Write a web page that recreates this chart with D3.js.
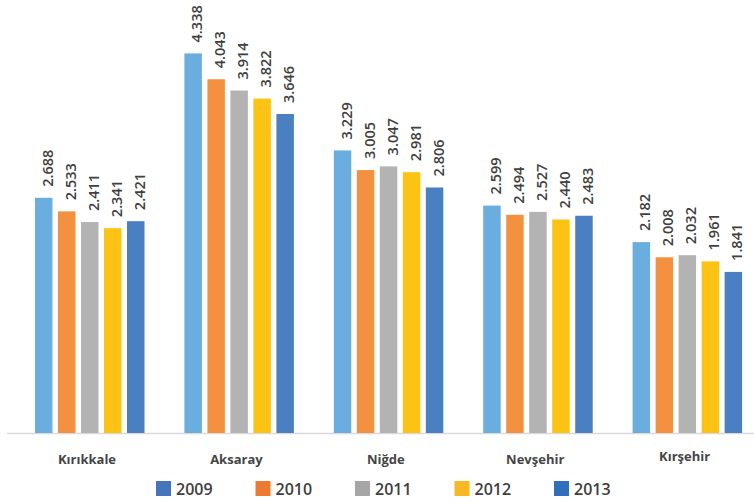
<!DOCTYPE html>
<html><head><meta charset="utf-8">
<script src="https://cdn.jsdelivr.net/npm/d3@7"></script>
<style>body{margin:0;background:#fff;} text{font-family:"Open Sans",sans-serif;}</style>
</head><body>
<svg id="c" width="754" height="503"></svg>
<script>
const categories = ["Kırıkkale","Aksaray","Niğde","Nevşehir","Kırşehir"];
const years = ["2009","2010","2011","2012","2013"];
const v2009 = [2.688, 4.338, 3.229, 2.599, 2.182];
const v2010 = [2.533, 4.043, 3.005, 2.494, 2.008];
const v2011 = [2.411, 3.914, 3.047, 2.527, 2.032];
const v2012 = [2.341, 3.822, 2.981, 2.440, 1.961];
const v2013 = [2.421, 3.646, 2.806, 2.483, 1.841];
const labels2009 = ["2.688","4.338","3.229","2.599","2.182"];
const labels2010 = ["2.533","4.043","3.005","2.494","2.008"];
const labels2011 = ["2.411","3.914","3.047","2.527","2.032"];
const labels2012 = ["2.341","3.822","2.981","2.440","1.961"];
const labels2013 = ["2.421","3.646","2.806","2.483","1.841"];
const series = [v2009, v2010, v2011, v2012, v2013];
const seriesLabels = [labels2009, labels2010, labels2011, labels2012, labels2013];
const barColors = ["#6aaee0","#f39140","#b3b3b3","#fcc314","#4a7fc1"];
const legendColors = ["#4475bd","#ec7a30","#a6a6a6","#f7b824","#316fbb"];

const svg = d3.select("#c");
const x0 = d3.scaleBand().domain(categories).range([15, 762]).padding(0);
const x1 = d3.scaleBand().domain(years).range([20, 129.5]).paddingInner(0.24).paddingOuter(0);
const y = d3.scaleLinear().domain([0, 5]).range([433, 433 - 5*87.5]);

// baseline
svg.append("line").attr("x1", 7).attr("x2", 754).attr("y1", y(0)+0.5).attr("y2", y(0)+0.5)
  .attr("stroke", "#d9d9d9").attr("stroke-width", 1.5);

const data = [];
categories.forEach((c, i) => years.forEach((yr, j) => data.push({c, yr, v: series[j][i], lab: seriesLabels[j][i], color: barColors[j]})));

const g = svg.append("g");
g.selectAll("rect").data(data).join("rect")
  .attr("x", d => x0(d.c) + x1(d.yr))
  .attr("y", d => y(d.v))
  .attr("width", x1.bandwidth())
  .attr("height", d => y(0) - y(d.v))
  .attr("fill", d => d.color);

g.selectAll("text.val").data(data).join("text").attr("class","val")
  .attr("transform", d => `translate(${x0(d.c) + x1(d.yr) + x1.bandwidth()/2 + 9},${y(d.v) - 11}) rotate(-90)`)
  .attr("text-anchor", "start")
  .attr("font-size", 14.5).attr("font-weight", 600).attr("fill", "#404040")
  .text(d => d.lab);

// category labels
svg.selectAll("text.cat").data(categories).join("text").attr("class","cat")
  .attr("x", d => x0(d) + 72)
  .attr("y", (d, i) => i === 4 ? 461 : 464)
  .attr("text-anchor", "middle")
  .attr("font-size", 13).attr("font-weight", 700).attr("fill", "#454545")
  .text(d => d);

// legend
const lg = svg.selectAll("g.leg").data(years).join("g").attr("class","leg")
  .attr("transform", (d, i) => `translate(${156 + i*99.5},481)`);
lg.append("rect").attr("width", 15).attr("height", 15).attr("fill", (d, i) => legendColors[i]);
lg.append("text").attr("x", 20).attr("y", 13.5).attr("font-size", 16).attr("font-weight", 600)
  .attr("fill", "#404040").text(d => d);
</script>
</body></html>
